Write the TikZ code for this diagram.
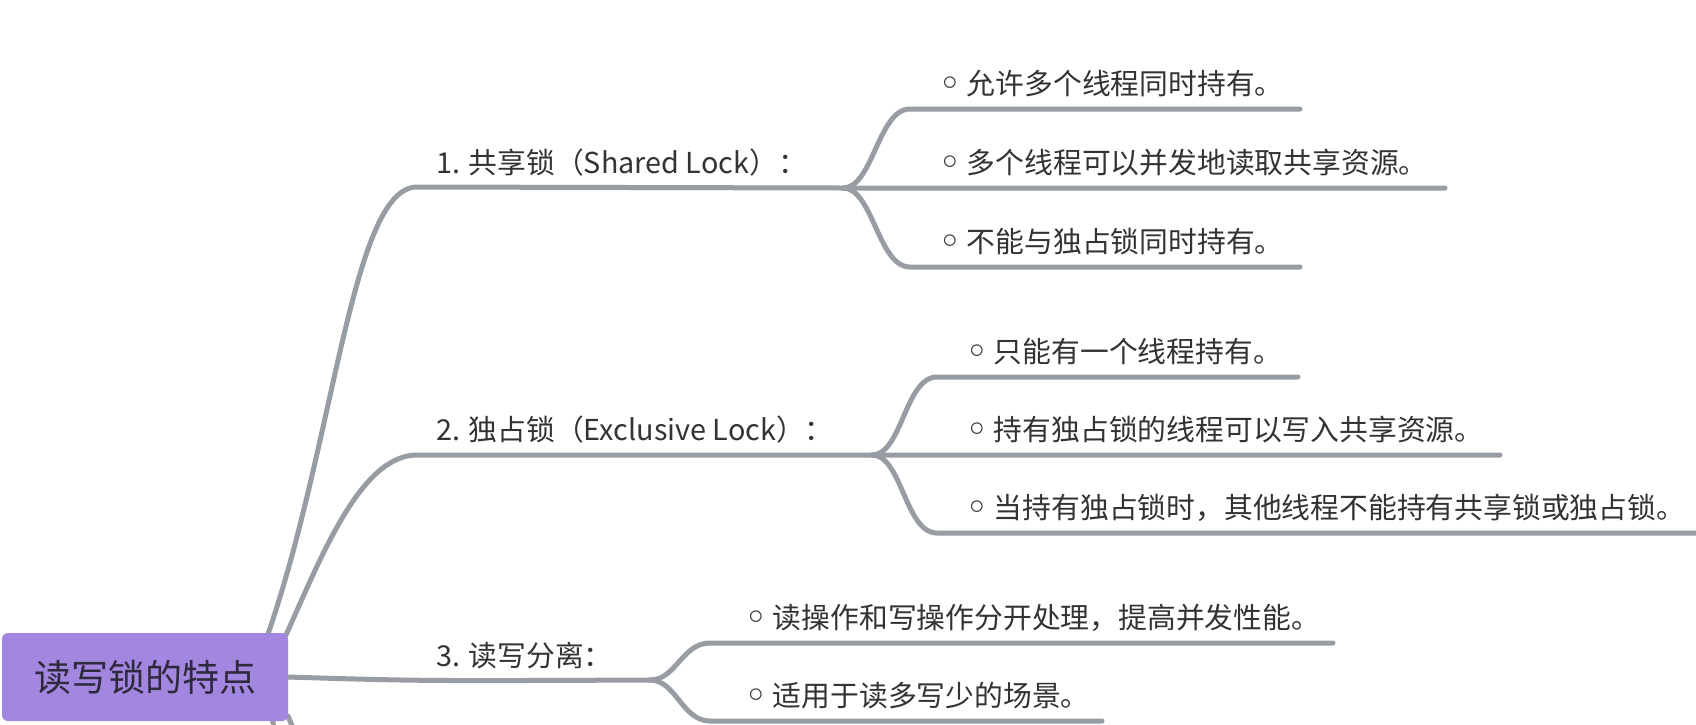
\documentclass[tikz,border=0pt]{standalone}
\usepackage{fontspec}
\setmainfont{Noto Sans CJK SC}
\newfontfamily\bulfont{DejaVu Sans}
\definecolor{linegray}{HTML}{979DA3}
\definecolor{rootfill}{HTML}{A386DF}
\definecolor{txtc}{HTML}{333333}
\definecolor{roottxt}{HTML}{2E2A3E}
\newcommand{\bl}{\raisebox{-3.5pt}{\bulfont\fontsize{40}{40}\selectfont ◦}\hspace{5pt}}
\begin{document}
\begin{tikzpicture}[x=1pt,y=-1pt,
  conn/.style={draw=linegray, line width=5pt, line cap=round},
  lab/.style={anchor=base west, inner sep=0pt, text=txtc, font=\fontsize{28.8}{34}\selectfont},
  rootbox/.style={draw=none, fill=rootfill, rounded corners=6pt, minimum width=286pt,
    minimum height=88pt, inner sep=0pt, text=roottxt, font=\fontsize{37}{44}\selectfont}]
\useasboundingbox (0,0) rectangle (1696,724);
\clip (0,0) rectangle (1696,724);
\fill[white] (0,0) rectangle (1696,724);

% named points
\coordinate (r1) at (268,634);
\coordinate (r2) at (286,635);
\coordinate (r3) at (287,677);
\coordinate (r4) at (272,718);
\coordinate (r5) at (288,716);
\coordinate (d4) at (286,790);
\coordinate (d5) at (322,790);
\coordinate (c1) at (417,187);
\coordinate (j1) at (843,188);
\coordinate (u1) at (910,109);
\coordinate (l1) at (910,267);
\coordinate (e1u) at (1300,109);
\coordinate (e1m) at (1445,188);
\coordinate (e1l) at (1300,267);
\coordinate (c2) at (417,455);
\coordinate (j2) at (872,455);
\coordinate (u2) at (937,377);
\coordinate (l2) at (937,533);
\coordinate (e2u) at (1298,377);
\coordinate (e2m) at (1500,455);
\coordinate (e2l) at (1720,533);
\coordinate (j3) at (650,680);
\coordinate (u3) at (710,643);
\coordinate (l3) at (710,721);
\coordinate (e3u) at (1333,643);
\coordinate (e3l) at (1102,721);

% connectors
\draw[conn] (r1) .. controls (335,440) and (352,187) .. (c1) -- (j1) -- (e1m);
\draw[conn] (j1) .. controls (873,188) and (878,109) .. (u1) -- (e1u);
\draw[conn] (j1) .. controls (873,188) and (878,267) .. (l1) -- (e1l);
\draw[conn] (r2) .. controls (320,560) and (360,455) .. (c2) -- (j2) -- (e2m);
\draw[conn] (j2) .. controls (902,455) and (905,377) .. (u2) -- (e2u);
\draw[conn] (j2) .. controls (902,455) and (905,533) .. (l2) -- (e2l);
\draw[conn] (r3) .. controls (420,681) .. (j3);
\draw[conn] (j3) .. controls (676,680) and (682,643) .. (u3) -- (e3u);
\draw[conn] (j3) .. controls (676,680) and (682,721) .. (l3) -- (e3l);
\draw[conn] (r4) .. controls (278,745) .. (d4);
\draw[conn] (r5) .. controls (300,745) .. (d5);

% root
\node[rootbox] (root) at (145,677) {读写锁的特点};

% branch labels
\node[lab] (b1) at (436,173) {1. 共享锁（Shared Lock）：};
\node[lab] (b2) at (436,440) {2. 独占锁（Exclusive Lock）：};
\node[lab] (b3) at (436,666) {3. 读写分离：};

% sub items
\node[lab] (s11) at (938,94) {\bl 允许多个线程同时持有。};
\node[lab] (s12) at (938,173) {\bl 多个线程可以并发地读取共享资源。};
\node[lab] (s13) at (938,252) {\bl 不能与独占锁同时持有。};
\node[lab] (s21) at (965,362) {\bl 只能有一个线程持有。};
\node[lab] (s22) at (965,440) {\bl 持有独占锁的线程可以写入共享资源。};
\node[lab] (s23) at (965,518) {\bl 当持有独占锁时，其他线程不能持有共享锁或独占锁。};
\node[lab] (s31) at (744,628) {\bl 读操作和写操作分开处理，提高并发性能。};
\node[lab] (s32) at (744,706) {\bl 适用于读多写少的场景。};
\end{tikzpicture}
\end{document}
